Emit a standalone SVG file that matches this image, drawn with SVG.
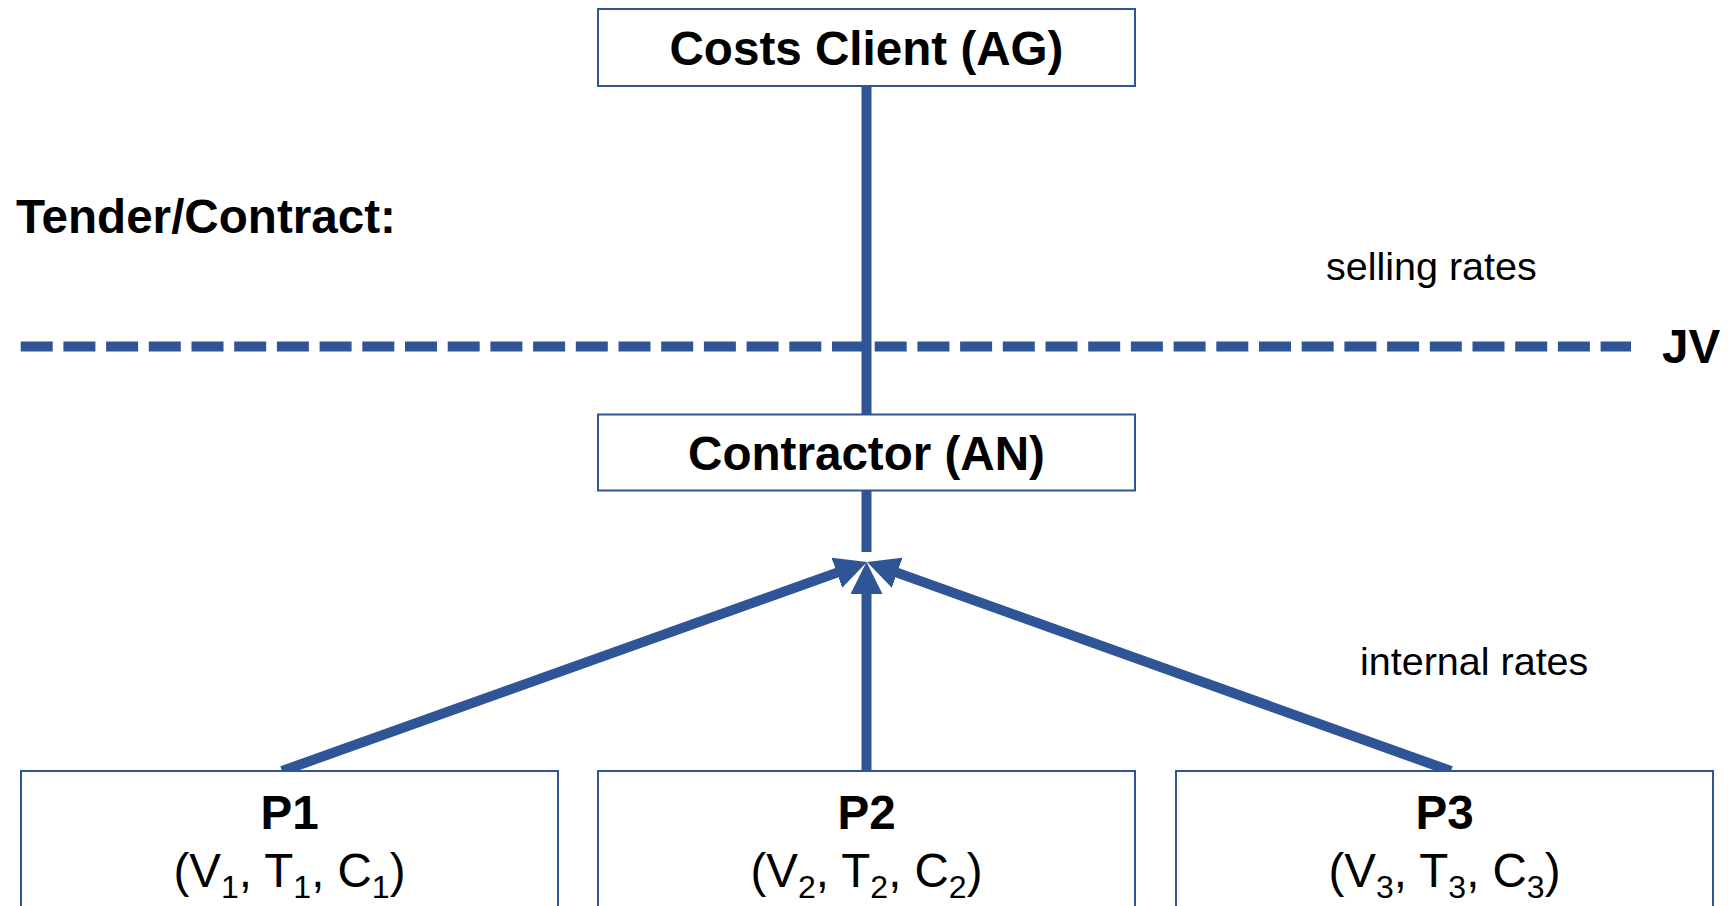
<svg xmlns="http://www.w3.org/2000/svg" width="1733" height="906" viewBox="0 0 1733 906">
<style>
.box{fill:#ffffff;stroke:#2F5597;stroke-width:2}
.conn{stroke:#2F5597;stroke-width:10;fill:none}
.b{font-family:"Liberation Sans",Arial,sans-serif;font-weight:bold;font-size:47.6px;fill:#000}
.r{font-family:"Liberation Sans",Arial,sans-serif;font-size:39.5px;fill:#000}
.p{font-family:"Liberation Sans",Arial,sans-serif;font-size:47.5px;fill:#000}
.sub{font-size:32px}
.mid{text-anchor:middle}
</style>
<defs>
<marker id="ah" markerUnits="userSpaceOnUse" markerWidth="32" markerHeight="32" refX="4" refY="16" orient="auto">
<path d="M0,0 L32,16 L0,32 z" fill="#2F5597"/>
</marker>
</defs>
<rect width="1733" height="906" fill="#ffffff"/>
<g id="connectors">
<line class="conn" x1="20.7" y1="346.5" x2="1631" y2="346.5" stroke-width="11" stroke-dasharray="32 10.7"/>
<line class="conn" x1="866.5" y1="86" x2="866.5" y2="415"/>
<line class="conn" x1="866.5" y1="490" x2="866.5" y2="552"/>
<line class="conn" x1="282" y1="771" x2="840.6" y2="571.4" marker-end="url(#ah)"/>
<line class="conn" x1="866.5" y1="771" x2="866.5" y2="590" marker-end="url(#ah)"/>
<line class="conn" x1="1451" y1="771" x2="893.4" y2="571.4" marker-end="url(#ah)"/>
</g>
<g id="client">
<rect class="box" x="598" y="9" width="537" height="77"/>
<text class="b mid" x="866.5" y="65">Costs Client (AG)</text>
</g>
<g id="contractor">
<rect class="box" x="598" y="414.5" width="537" height="76"/>
<text class="b mid" x="866.5" y="470">Contractor (AN)</text>
</g>
<g id="p1">
<rect class="box" x="21" y="771" width="537" height="200"/>
<text class="b mid" x="289.5" y="829">P1</text>
<text class="p mid" x="289.5" y="887">(V<tspan class="sub" dy="11">1</tspan><tspan dy="-11">, T</tspan><tspan class="sub" dy="11">1</tspan><tspan dy="-11">, C</tspan><tspan class="sub" dy="11">1</tspan><tspan dy="-11">)</tspan></text>
</g>
<g id="p2">
<rect class="box" x="598" y="771" width="537" height="200"/>
<text class="b mid" x="866.5" y="829">P2</text>
<text class="p mid" x="866.5" y="887">(V<tspan class="sub" dy="11">2</tspan><tspan dy="-11">, T</tspan><tspan class="sub" dy="11">2</tspan><tspan dy="-11">, C</tspan><tspan class="sub" dy="11">2</tspan><tspan dy="-11">)</tspan></text>
</g>
<g id="p3">
<rect class="box" x="1176" y="771" width="537" height="200"/>
<text class="b mid" x="1444.5" y="829">P3</text>
<text class="p mid" x="1444.5" y="887">(V<tspan class="sub" dy="11">3</tspan><tspan dy="-11">, T</tspan><tspan class="sub" dy="11">3</tspan><tspan dy="-11">, C</tspan><tspan class="sub" dy="11">3</tspan><tspan dy="-11">)</tspan></text>
</g>
<g id="labels">
<text class="b" x="16" y="233">Tender/Contract:</text>
<text class="b" x="1662" y="363">JV</text>
<text class="r" x="1326" y="280">selling rates</text>
<text class="r" x="1360" y="675">internal rates</text>
</g>
</svg>
